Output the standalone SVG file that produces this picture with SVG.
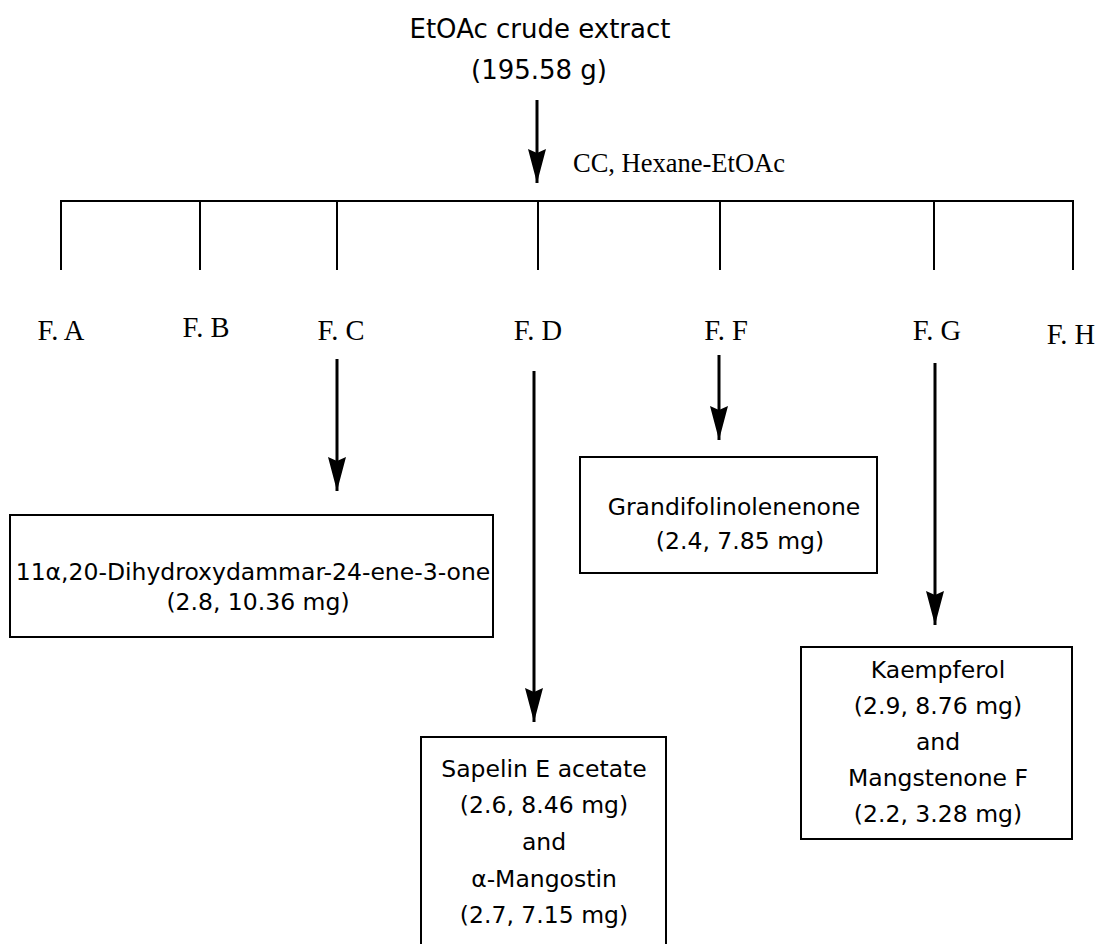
<svg xmlns="http://www.w3.org/2000/svg" width="1106" height="944" viewBox="0 0 1106 944">
<style>
.bg{fill:#ffffff}
.sans{font-family:"DejaVu Sans","Noto Sans",sans-serif;fill:#000;text-anchor:middle}
.title{font-size:26px}
.box{font-size:23.5px}
.serif{font-family:"Liberation Serif","Times New Roman",serif;fill:#000;font-size:28.5px;text-anchor:middle}
.method{font-family:"Liberation Serif","Times New Roman",serif;fill:#000;font-size:26.5px}
.frame{fill:#fff;stroke:#000;stroke-width:2}
.tree{stroke:#000;stroke-width:2;fill:none}
.arrow{stroke:#000;stroke-width:3;fill:none;marker-end:url(#ah)}
</style>
<defs>
<marker id="ah" viewBox="0 0 34 18" refX="34" refY="9" markerWidth="34" markerHeight="18" orient="auto" markerUnits="userSpaceOnUse">
<path d="M0,0 L34,9 L0,18 L4,9 z" fill="#000"/>
</marker>
</defs>
<rect class="bg" x="0" y="0" width="1106" height="944"/>

<g id="connectors">
<line class="arrow" x1="537" y1="100" x2="537" y2="183"/>
<path class="tree" d="M61,270 V201 H1073 V270 M200,201 V270 M337,201 V270 M538,201 V270 M720,201 V270 M934,201 V270"/>
<line class="arrow" x1="337" y1="359" x2="337" y2="491"/>
<line class="arrow" x1="534" y1="371" x2="534" y2="722"/>
<line class="arrow" x1="719" y1="355" x2="719" y2="440"/>
<line class="arrow" x1="935" y1="363" x2="935" y2="625"/>
</g>

<g id="crude">
<text class="sans title" x="540" y="38">EtOAc crude extract</text>
<text class="sans title" x="539" y="79">(195.58 g)</text>
</g>

<g id="method">
<text class="method" x="573" y="172">CC, Hexane-EtOAc</text>
</g>

<g id="fA"><text class="serif" x="61" y="340">F. A</text></g>
<g id="fB"><text class="serif" x="206" y="337">F. B</text></g>
<g id="fC"><text class="serif" x="341" y="340">F. C</text></g>
<g id="fD"><text class="serif" x="538" y="340">F. D</text></g>
<g id="fF"><text class="serif" x="726" y="340">F. F</text></g>
<g id="fG"><text class="serif" x="937" y="340">F. G</text></g>
<g id="fH"><text class="serif" x="1071" y="344">F. H</text></g>

<g id="box1">
<rect class="frame" x="10" y="515" width="483" height="122"/>
<text class="sans box" x="253" y="580">11α,20-Dihydroxydammar-24-ene-3-one</text>
<text class="sans box" x="258" y="610">(2.8, 10.36 mg)</text>
</g>

<g id="box2">
<rect class="frame" x="580" y="457" width="297" height="116"/>
<text class="sans box" x="734" y="515">Grandifolinolenenone</text>
<text class="sans box" x="740" y="549">(2.4, 7.85 mg)</text>
</g>

<g id="box3">
<rect class="frame" x="801" y="647" width="271" height="192"/>
<text class="sans box" x="938" y="678">Kaempferol</text>
<text class="sans box" x="938" y="714">(2.9, 8.76 mg)</text>
<text class="sans box" x="938" y="750">and</text>
<text class="sans box" x="938" y="786">Mangstenone F</text>
<text class="sans box" x="938" y="822">(2.2, 3.28 mg)</text>
</g>

<g id="box4">
<rect class="frame" x="421" y="737" width="245" height="230"/>
<text class="sans box" x="544" y="777">Sapelin E acetate</text>
<text class="sans box" x="544" y="813">(2.6, 8.46 mg)</text>
<text class="sans box" x="544" y="850">and</text>
<text class="sans box" x="544" y="887">α-Mangostin</text>
<text class="sans box" x="544" y="923">(2.7, 7.15 mg)</text>
</g>
</svg>
